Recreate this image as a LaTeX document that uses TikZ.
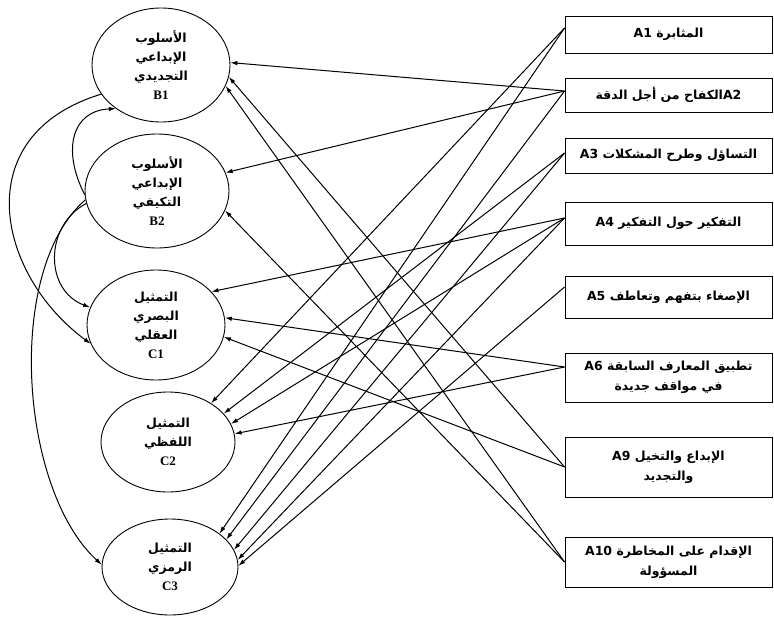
\documentclass[tikz,border=0pt]{standalone}
\usepackage{fontspec}
\setmainfont{Liberation Serif}
\newfontfamily\arabicfont[Script=Arabic]{DejaVu Sans}
\TeXXeTstate=1
\usetikzlibrary{shapes.geometric,arrows.meta,calc}
\begin{document}
\begin{tikzpicture}[x=1pt,y=-1pt,
  ell/.style={draw, ellipse, line width=0.9pt, inner sep=0pt, align=center,
    font=\arabicfont\bfseries\fontsize{12.5}{19}\selectfont},
  abox/.style={draw, rectangle, line width=0.9pt, minimum width=207, inner sep=0pt,
    align=center, font=\arabicfont\bfseries\fontsize{12.5}{20}\selectfont},
  arr/.style={-{Latex[length=7pt,width=4.5pt]}, line width=1pt}]
\useasboundingbox (0,0) rectangle (774,616);

% ellipses
\node[ell, minimum width=138, minimum height=114] (B1) at (161,65)
  {\beginR الأسلوب\endR\\\beginR الإبداعي\endR\\\beginR التجديدي\endR\\{\rmfamily\fontsize{13}{19}\selectfont B1}};
\node[ell, minimum width=144, minimum height=114] (B2) at (157,191)
  {\beginR الأسلوب\endR\\\beginR الإبداعي\endR\\\beginR التكيفي\endR\\{\rmfamily\fontsize{13}{19}\selectfont B2}};
\node[ell, minimum width=138, minimum height=110] (C1) at (156,325)
  {\beginR التمثيل\endR\\\beginR البصري\endR\\\beginR العقلي\endR\\{\rmfamily\fontsize{13}{19}\selectfont C1}};
\node[ell, minimum width=134, minimum height=100] (C2) at (168,442)
  {\beginR التمثيل\endR\\\beginR اللفظي\endR\\{\rmfamily\fontsize{13}{19}\selectfont C2}};
\node[ell, minimum width=136, minimum height=96] (C3) at (170,567)
  {\beginR التمثيل\endR\\\beginR الرمزي\endR\\{\rmfamily\fontsize{13}{19}\selectfont C3}};

% boxes
\node[abox, minimum height=37] (A1) at (668.5,34.5) {A1 \beginR المثابرة\endR};
\node[abox, minimum height=34] (A2) at (668.5,95) {\beginR الكفاح من أجل الدقة\endR A2};
\node[abox, minimum height=35] (A3) at (668.5,155.5) {A3 \beginR التساؤل وطرح المشكلات\endR};
\node[abox, minimum height=43] (A4) at (668.5,223.5) {A4 \beginR التفكير حول التفكير\endR};
\node[abox, minimum height=42] (A5) at (668.5,297) {A5 \beginR الإصغاء بتفهم وتعاطف\endR};
\node[abox, minimum height=49] (A6) at (668.5,377.5) {A6 \beginR تطبيق المعارف السابقة\endR\\\beginR في مواقف جديدة\endR};
\node[abox, minimum height=60] (A9) at (668.5,467) {A9 \beginR الإبداع والتخيل\endR\\\beginR والتجديد\endR};
\node[abox, minimum height=50] (A10) at (668.5,562) {A10 \beginR الإقدام على المخاطرة\endR\\\beginR المسؤولة\endR};

% attach points
\coordinate (a1) at ([yshift=6.5pt]A1.west);
\coordinate (a2) at ([yshift=4pt]A2.west);
\coordinate (a3) at ([yshift=2.5pt]A3.west);
\coordinate (a4) at ([yshift=5.5pt]A4.west);
\coordinate (a5) at ([yshift=10pt]A5.west);
\coordinate (a6) at ([yshift=10.5pt]A6.west);
\coordinate (a9) at (A9.west);
\coordinate (a10) at (A10.west);

% straight connectors
\draw[arr] (a2) -- (B1.2);
\draw[arr] (a9) -- (B1.-10);
\draw[arr] (a10) -- (B1.-18);
\draw[arr] (a2) -- (B2.15);
\draw[arr] (a10) -- (B2.-16);
\draw[arr] (a4) -- (C1.31);
\draw[arr] (a6) -- (C1.6);
\draw[arr] (a9) -- (C1.-10);
\draw[arr] (a1) -- (C2.42);
\draw[arr] (a3) -- (C2.27);
\draw[arr] (a4) -- (C2.16);
\draw[arr] (a6) -- (C2.7);
\draw[arr] (a1) -- (C3.34);
\draw[arr] (a2) -- (C3.26);
\draw[arr] (a3) -- (C3.15);
\draw[arr] (a4) -- (C3.6);
\draw[arr] (a5) -- (C3.1);

% curved connectors on the left
\draw[arr] (B1.206) .. controls +(-135,41) and +(-94,-69) .. (C1.196);
\draw[arr] (B2.187) .. controls +(-81,70) and +(-82,-75) .. (C3.178);
\draw[arr] (B2.183) .. controls +(-23,-45) and +(-44,2) .. (B1.224);
\draw[arr] (B2.190) .. controls +(-42,22) and +(-46,-17) .. (C1.165);
\end{tikzpicture}
\end{document}
